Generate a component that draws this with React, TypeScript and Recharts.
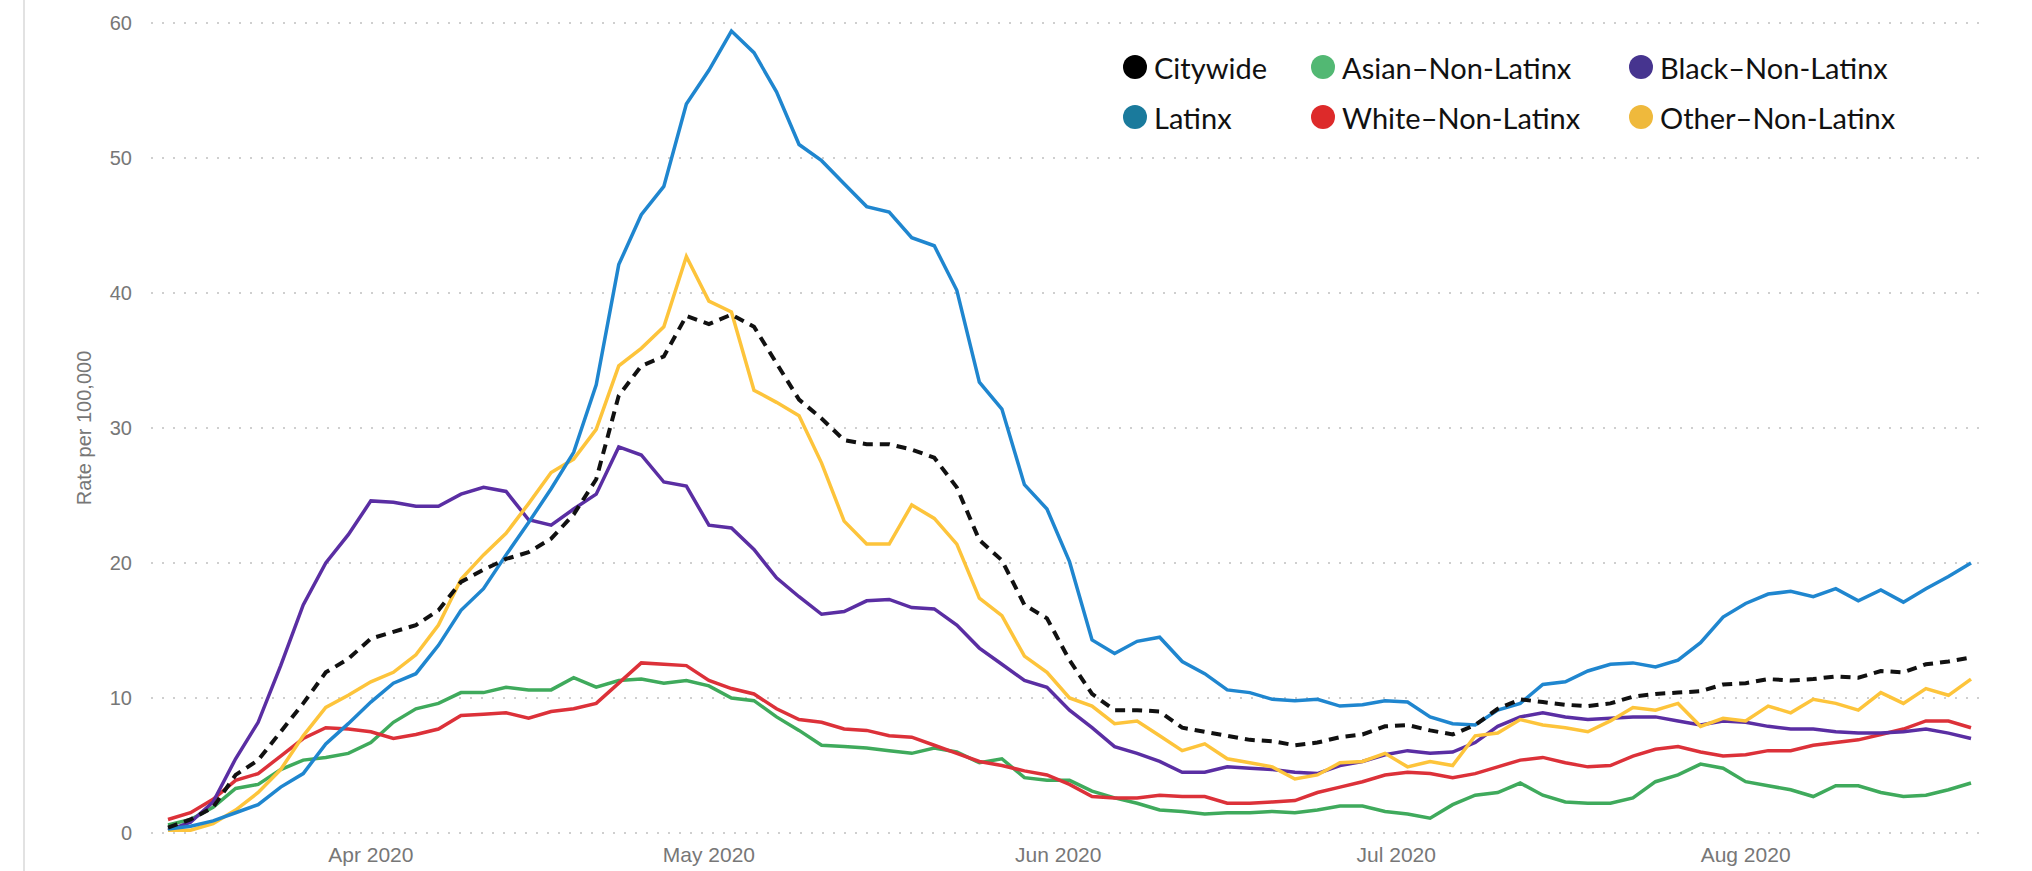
import React from 'react';
import { LineChart, Line, XAxis, YAxis, CartesianGrid, Legend } from 'recharts';

// one point every 2 days, day 0 = Mar 14 2020
const citywide = [
  0.4, 1.0, 1.9, 4.3, 5.4, 7.5, 9.6, 11.9, 12.9, 14.4, 14.9, 15.4, 16.5, 18.6, 19.5, 20.3, 20.8, 21.8, 23.6,
  26.2, 32.4, 34.6, 35.3, 38.3, 37.7, 38.4, 37.5, 34.8, 32.1, 30.7, 29.1, 28.8, 28.8, 28.4, 27.8, 25.6,
  21.7, 20.2, 16.9, 15.9, 12.8, 10.3, 9.1, 9.1, 9.0, 7.8, 7.5, 7.2, 6.9, 6.8, 6.5, 6.7, 7.1, 7.3, 7.9, 8.0, 7.6, 7.3, 8.0,
  9.2, 9.9, 9.7, 9.5, 9.4, 9.6, 10.1, 10.3, 10.4, 10.5, 11.0, 11.1, 11.4, 11.3, 11.4, 11.6, 11.5, 12.0, 11.9, 12.5, 12.7, 13.0,
];
const asian = [
  0.6, 1.0, 1.9, 3.3, 3.6, 4.7, 5.4, 5.6, 5.9, 6.7, 8.2, 9.2, 9.6, 10.4, 10.4, 10.8, 10.6, 10.6, 11.5,
  10.8, 11.3, 11.4, 11.1, 11.3, 10.9, 10.0, 9.8, 8.6, 7.6, 6.5, 6.4, 6.3, 6.1, 5.9, 6.3, 6.0,
  5.2, 5.5, 4.1, 3.9, 3.9, 3.1, 2.6, 2.2, 1.7, 1.6, 1.4, 1.5, 1.5, 1.6, 1.5, 1.7, 2.0, 2.0, 1.6, 1.4, 1.1, 2.1, 2.8,
  3.0, 3.7, 2.8, 2.3, 2.2, 2.2, 2.6, 3.8, 4.3, 5.1, 4.8, 3.8, 3.5, 3.2, 2.7, 3.5, 3.5, 3.0, 2.7, 2.8, 3.2, 3.7,
];
const black = [
  0.2, 0.8, 2.3, 5.5, 8.2, 12.4, 16.9, 20.0, 22.1, 24.6, 24.5, 24.2, 24.2, 25.1, 25.6, 25.3, 23.2, 22.8, 24.0,
  25.1, 28.6, 28.0, 26.0, 25.7, 22.8, 22.6, 21.0, 18.9, 17.5, 16.2, 16.4, 17.2, 17.3, 16.7, 16.6, 15.4,
  13.7, 12.5, 11.3, 10.8, 9.1, 7.8, 6.4, 5.9, 5.3, 4.5, 4.5, 4.9, 4.8, 4.7, 4.5, 4.4, 5.0, 5.3, 5.8, 6.1, 5.9, 6.0, 6.7,
  7.9, 8.6, 8.9, 8.6, 8.4, 8.5, 8.6, 8.6, 8.3, 8.0, 8.3, 8.2, 7.9, 7.7, 7.7, 7.5, 7.4, 7.4, 7.5, 7.7, 7.4, 7.0,
];
const latinx = [
  0.3, 0.5, 0.9, 1.5, 2.1, 3.4, 4.4, 6.6, 8.1, 9.7, 11.1, 11.8, 13.9, 16.5, 18.1, 20.6, 23.0, 25.5, 28.2,
  33.2, 42.1, 45.8, 47.9, 54.0, 56.5, 59.4, 57.8, 54.9, 51.0, 49.8, 48.1, 46.4, 46.0, 44.1, 43.5, 40.2,
  33.4, 31.4, 25.8, 24.0, 20.1, 14.3, 13.3, 14.2, 14.5, 12.7, 11.8, 10.6, 10.4, 9.9, 9.8, 9.9, 9.4, 9.5, 9.8, 9.7, 8.6, 8.1, 8.0,
  9.1, 9.6, 11.0, 11.2, 12.0, 12.5, 12.6, 12.3, 12.8, 14.1, 16.0, 17.0, 17.7, 17.9, 17.5, 18.1, 17.2, 18.0, 17.1, 18.1, 19.0, 20.0,
];
const white = [
  1.0, 1.5, 2.5, 3.9, 4.4, 5.7, 7.0, 7.8, 7.7, 7.5, 7.0, 7.3, 7.7, 8.7, 8.8, 8.9, 8.5, 9.0, 9.2,
  9.6, 11.1, 12.6, 12.5, 12.4, 11.3, 10.7, 10.3, 9.2, 8.4, 8.2, 7.7, 7.6, 7.2, 7.1, 6.5, 5.9,
  5.3, 5.0, 4.6, 4.3, 3.6, 2.7, 2.6, 2.6, 2.8, 2.7, 2.7, 2.2, 2.2, 2.3, 2.4, 3.0, 3.4, 3.8, 4.3, 4.5, 4.4, 4.1, 4.4,
  4.9, 5.4, 5.6, 5.2, 4.9, 5.0, 5.7, 6.2, 6.4, 6.0, 5.7, 5.8, 6.1, 6.1, 6.5, 6.7, 6.9, 7.3, 7.7, 8.3, 8.3, 7.8,
];
const other = [
  0.2, 0.2, 0.7, 1.7, 3.0, 4.7, 7.2, 9.3, 10.2, 11.2, 11.9, 13.2, 15.4, 18.8, 20.6, 22.2, 24.4, 26.7, 27.7,
  29.9, 34.6, 35.9, 37.5, 42.7, 39.4, 38.6, 32.8, 31.9, 30.9, 27.4, 23.1, 21.4, 21.4, 24.3, 23.3, 21.4,
  17.4, 16.1, 13.1, 11.9, 10.0, 9.4, 8.1, 8.3, 7.2, 6.1, 6.6, 5.5, 5.2, 4.9, 4.0, 4.3, 5.2, 5.3, 5.9, 4.9, 5.3, 5.0, 7.2,
  7.4, 8.4, 8.0, 7.8, 7.5, 8.3, 9.3, 9.1, 9.6, 7.9, 8.5, 8.3, 9.4, 8.9, 9.9, 9.6, 9.1, 10.4, 9.6, 10.7, 10.2, 11.4,
];

const monthTicks = [18, 48, 79, 109, 140];
const monthLabels = ['Apr 2020', 'May 2020', 'Jun 2020', 'Jul 2020', 'Aug 2020'];
const yTicks = [0, 10, 20, 30, 40, 50, 60];

const legendNames = ['Citywide', 'Asian–Non-Latinx', 'Black–Non-Latinx', 'Latinx', 'White–Non-Latinx', 'Other–Non-Latinx'];
const legendColors = ['#000000', '#52b873', '#46348f', '#1a7a9c', '#dd2a2a', '#efb93c'];

const data = citywide.map((v, i) => ({
  day: i * 2,
  citywide: v,
  asian: asian[i],
  black: black[i],
  latinx: latinx[i],
  white: white[i],
  other: other[i],
}));

const axisFont = '"Liberation Sans", Arial, sans-serif';

const renderLegend = () => (
  <div style={{ position: 'relative', fontFamily: 'Lato, "Noto Sans", sans-serif' }}>
    {legendNames.map((name, i) => {
      const colX = [1135, 1323, 1641][i % 3];
      const rowY = [67, 117][Math.floor(i / 3)];
      return (
        <div
          key={name}
          style={{
            position: 'absolute',
            left: colX - 12,
            top: rowY - 18,
            height: 36,
            display: 'flex',
            alignItems: 'center',
            whiteSpace: 'nowrap',
          }}
        >
          <span
            style={{
              width: 24,
              height: 24,
              borderRadius: '50%',
              background: legendColors[i],
              display: 'inline-block',
              marginRight: 7,
            }}
          />
          <span style={{ fontSize: 29, color: '#111' }}>{name}</span>
        </div>
      );
    })}
  </div>
);

const YTitle = (props: any) => {
  const vb = props.viewBox || {};
  const cy = vb.y + vb.height / 2;
  return (
    <text
      x={84}
      y={cy}
      transform={`rotate(-90 84 ${cy})`}
      textAnchor="middle"
      dominantBaseline="central"
      fill="#777"
      fontSize={20}
      fontFamily={axisFont}
    >
      Rate per 100,000
    </text>
  );
};

export default function App() {
  return (
    <div style={{ position: 'absolute', left: 0, top: 0, width: 2032, height: 871, background: '#fff' }}>
      <div style={{ position: 'absolute', left: 23, top: 0, width: 2, height: 871, background: '#e2e2e2' }} />
      <LineChart width={2032} height={871} data={data} margin={{ top: 23, right: 46, bottom: 0, left: 0 }}>
        <CartesianGrid vertical={false} stroke="#cfcfcf" strokeWidth={2} strokeDasharray="2 9" />
        <XAxis
          dataKey="day"
          type="number"
          domain={[0, 160]}
          ticks={monthTicks}
          tickFormatter={(v: number) => monthLabels[monthTicks.indexOf(v)]}
          padding={{ left: 17, right: 15 }}
          axisLine={false}
          tickLine={false}
          tickSize={0}
          tickMargin={14}
          height={38}
          tick={{ fill: '#777', fontSize: 21, fontFamily: axisFont }}
        />
        <YAxis
          domain={[0, 60]}
          ticks={yTicks}
          width={151}
          axisLine={false}
          tickLine={false}
          tickSize={0}
          tickMargin={19}
          tick={{ fill: '#777', fontSize: 20, fontFamily: axisFont }}
          label={{ content: YTitle }}
        />
        <Legend
          content={renderLegend}
          wrapperStyle={{ position: 'absolute', left: 0, top: 0, width: 0, height: 0 }}
        />
        <Line dataKey="asian" stroke="#3faa5c" strokeWidth={3.5} dot={false} isAnimationActive={false} />
        <Line dataKey="white" stroke="#dc3139" strokeWidth={3.5} dot={false} isAnimationActive={false} />
        <Line dataKey="black" stroke="#5a2ea3" strokeWidth={3.5} dot={false} isAnimationActive={false} />
        <Line dataKey="other" stroke="#fdc43b" strokeWidth={3.5} dot={false} isAnimationActive={false} />
        <Line dataKey="latinx" stroke="#1f86cf" strokeWidth={3.5} dot={false} isAnimationActive={false} />
        <Line
          dataKey="citywide"
          stroke="#111"
          strokeWidth={4}
          strokeDasharray="10 7"
          dot={false}
          isAnimationActive={false}
        />
      </LineChart>
    </div>
  );
}
